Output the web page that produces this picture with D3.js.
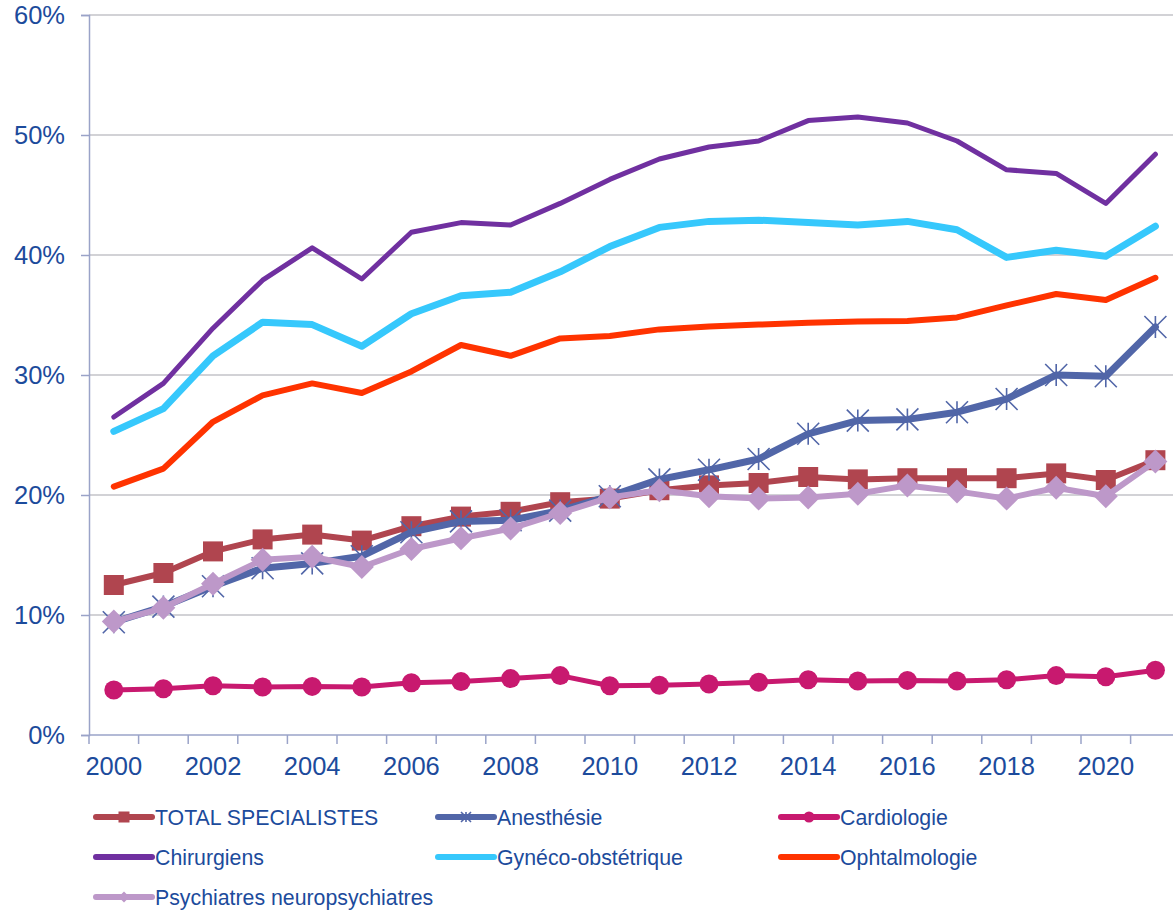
<!DOCTYPE html>
<html>
<head>
<meta charset="utf-8">
<script src="https://cdn.jsdelivr.net/npm/d3@7"></script>
<style>
  body { margin: 0; background: #fff; }
  text { font-family: "Liberation Sans", Arial, sans-serif; fill: #1c4b9c; }
</style>
</head>
<body>
<svg id="target"></svg>
<script>
// Values (percent)
const years = d3.range(2000, 2022);
const yTicks = [0, 10, 20, 30, 40, 50, 60];

const total = [12.5, 13.5, 15.3, 16.3, 16.7, 16.2, 17.4, 18.2, 18.6, 19.4, 19.7, 20.4, 20.8, 21.0, 21.5, 21.3, 21.4, 21.4, 21.4, 21.8, 21.25, 22.9];
const anesthesie = [9.4, 10.7, 12.4, 13.9, 14.3, 14.9, 16.9, 17.8, 17.9, 18.7, 19.9, 21.3, 22.1, 23.0, 25.1, 26.2, 26.3, 26.9, 28.0, 30.0, 29.9, 34.0];
const cardiologie = [3.75, 3.85, 4.1, 4.0, 4.05, 4.0, 4.35, 4.45, 4.7, 4.95, 4.1, 4.15, 4.25, 4.4, 4.6, 4.5, 4.55, 4.5, 4.6, 4.95, 4.85, 5.4];
const chirurgiens = [26.5, 29.3, 33.9, 37.9, 40.6, 38.0, 41.9, 42.7, 42.5, 44.3, 46.3, 48.0, 49.0, 49.5, 51.2, 51.5, 51.0, 49.5, 47.1, 46.8, 44.3, 48.4];
const gyneco = [25.3, 27.2, 31.6, 34.4, 34.2, 32.4, 35.1, 36.6, 36.9, 38.6, 40.7, 42.3, 42.8, 42.9, 42.7, 42.5, 42.8, 42.1, 39.8, 40.4, 39.9, 42.4];
const ophtalmo = [20.7, 22.2, 26.1, 28.3, 29.3, 28.5, 30.3, 32.5, 31.6, 33.05, 33.25, 33.8, 34.05, 34.2, 34.35, 34.45, 34.5, 34.8, 35.8, 36.75, 36.25, 38.1];
const psychiatres = [9.45, 10.6, 12.6, 14.6, 14.85, 14.0, 15.5, 16.4, 17.2, 18.5, 19.8, 20.4, 19.9, 19.7, 19.8, 20.1, 20.8, 20.3, 19.7, 20.6, 19.9, 22.8];

const series = [
  {name: "TOTAL SPECIALISTES", values: total, color: "#b0454f", width: 6, marker: "square"},
  {name: "Anesthésie", values: anesthesie, color: "#5166a8", width: 7, marker: "star"},
  {name: "Cardiologie", values: cardiologie, color: "#c8196f", width: 5, marker: "circle"},
  {name: "Chirurgiens", values: chirurgiens, color: "#7030a0", width: 5, marker: null},
  {name: "Gynéco-obstétrique", values: gyneco, color: "#36c8fc", width: 7, marker: null},
  {name: "Ophtalmologie", values: ophtalmo, color: "#ff3300", width: 6, marker: null},
  {name: "Psychiatres neuropsychiatres", values: psychiatres, color: "#bd98c9", width: 6, marker: "diamond"}
];

const W = 1173, H = 910;
const svg = d3.select("#target").attr("width", W).attr("height", H);

// Scales
const x = d3.scaleBand().domain(years).range([89, 89 + 22 * 49.6]).padding(0);
const y = d3.scaleLinear().domain([0, 60]).range([735, 15]);
const cx = d => x(d) + x.bandwidth() / 2;

// Gridlines
svg.append("g")
  .selectAll("line")
  .data(yTicks.filter(t => t > 0))
  .join("line")
  .attr("x1", 89).attr("x2", W)
  .attr("y1", d => y(d)).attr("y2", d => y(d))
  .attr("stroke", "#c3c3c8").attr("stroke-width", 1.5);

// Y axis
const yAxis = svg.append("g")
  .attr("transform", "translate(89,0)")
  .call(d3.axisLeft(y).tickValues(yTicks).tickSize(8).tickPadding(16).tickFormat(d => d + "%"));
yAxis.select(".domain").attr("stroke", "#9aa3c8").attr("stroke-width", 1.5);
yAxis.selectAll(".tick line").attr("stroke", "#9aa3c8").attr("stroke-width", 1.5);
yAxis.selectAll("text").attr("font-size", 25.5).attr("fill", "#1c4b9c").attr("font-family", "Liberation Sans, Arial, sans-serif");

// X axis: ticks on category boundaries, labels every second year
const xAxisG = svg.append("g");
xAxisG.append("line")
  .attr("x1", 89).attr("x2", W)
  .attr("y1", 735).attr("y2", 735)
  .attr("stroke", "#9aa3c8").attr("stroke-width", 1.5);
xAxisG.selectAll("line.tk")
  .data(years)
  .join("line")
  .attr("class", "tk")
  .attr("x1", d => x(d)).attr("x2", d => x(d))
  .attr("y1", 735).attr("y2", 744)
  .attr("stroke", "#9aa3c8").attr("stroke-width", 1.5);
xAxisG.selectAll("text")
  .data(years.filter(d => d % 2 === 0))
  .join("text")
  .attr("x", d => cx(d))
  .attr("y", 775)
  .attr("text-anchor", "middle")
  .attr("font-size", 25.5)
  .text(d => d);

// Marker drawing
function drawMarker(g, type, color, size) {
  if (type === "square") {
    g.append("rect").attr("x", -size / 2).attr("y", -size / 2)
      .attr("width", size).attr("height", size).attr("fill", color);
  } else if (type === "circle") {
    g.append("circle").attr("r", size / 2).attr("fill", color);
  } else if (type === "diamond") {
    const s = size / 2;
    g.append("path").attr("d", `M0,${-s}L${s},0L0,${s}L${-s},0Z`).attr("fill", color);
  } else if (type === "star") {
    const s = size / 2;
    g.append("path")
      .attr("d", `M${-s},${-s}L${s},${s}M${-s},${s}L${s},${-s}M0,${-s}L0,${s}`)
      .attr("stroke", color).attr("stroke-width", 1.6).attr("fill", "none");
  }
}
const markerSize = {square: 20, circle: 19, diamond: 24, star: 22};

const line = d3.line()
  .x((d, i) => cx(years[i]))
  .y(d => y(d));

series.forEach(s => {
  const g = svg.append("g");
  g.append("path")
    .datum(s.values)
    .attr("d", line)
    .attr("fill", "none")
    .attr("stroke", s.color)
    .attr("stroke-width", s.width)
    .attr("stroke-linejoin", "round")
    .attr("stroke-linecap", "round");
  if (s.marker) {
    s.values.forEach((v, i) => {
      const m = g.append("g").attr("transform", `translate(${cx(years[i])},${y(v)})`);
      drawMarker(m, s.marker, s.color, markerSize[s.marker]);
    });
  }
});

// Legend
const legendCols = [96, 438, 781];
const legendRows = [817, 857, 897];
series.forEach((s, i) => {
  const lx = legendCols[i % 3], ly = legendRows[Math.floor(i / 3)];
  const g = svg.append("g");
  g.append("line")
    .attr("x1", lx).attr("x2", lx + 56)
    .attr("y1", ly).attr("y2", ly)
    .attr("stroke", s.color).attr("stroke-width", 6).attr("stroke-linecap", "round");
  if (s.marker) {
    const m = g.append("g").attr("transform", `translate(${lx + 28},${ly})`);
    drawMarker(m, s.marker, s.color, s.marker === "star" ? 10 : 11);
  }
  g.append("text")
    .attr("x", lx + 59)
    .attr("y", ly + 7.5)
    .attr("font-size", 21.3)
    .text(s.name);
});
</script>
</body>
</html>
